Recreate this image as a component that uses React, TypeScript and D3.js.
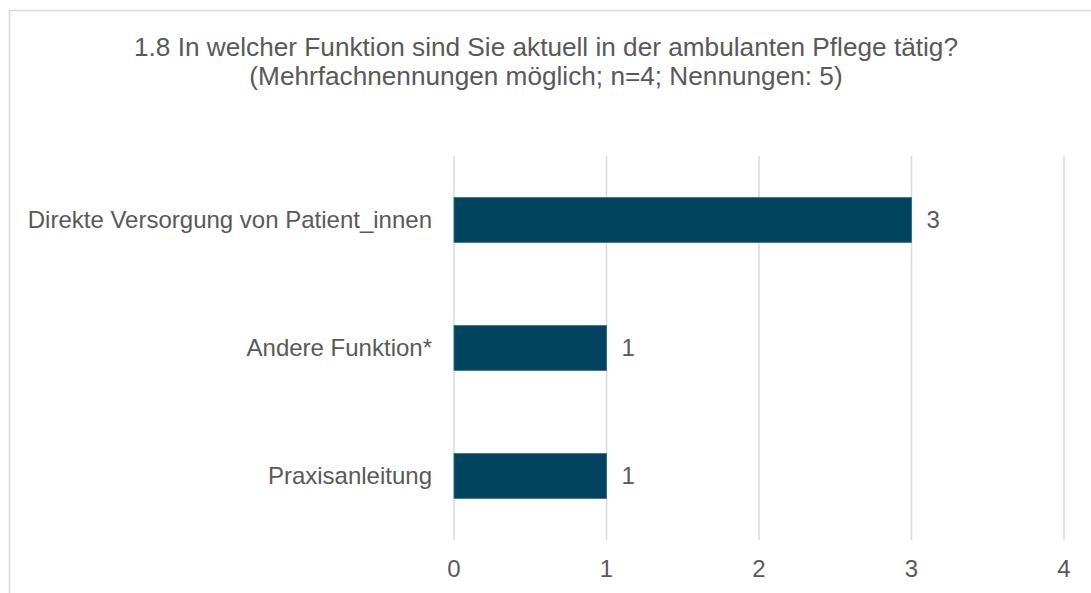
import * as d3 from 'd3'

const categories = ['Direkte Versorgung von Patient_innen', 'Andere Funktion*', 'Praxisanleitung']
const values = [3, 1, 1]
const ticks = [0, 1, 2, 3, 4]
const titleLines = [
  '1.8 In welcher Funktion sind Sie aktuell in der ambulanten Pflege tätig?',
  '(Mehrfachnennungen möglich; n=4; Nennungen: 5)',
]

const W = 1091
const H = 593
const FONT = '"Liberation Sans", Arial, sans-serif'
const TEXT = '#595959'

export default function App() {
  const x = d3.scaleLinear().domain([0, 4]).range([454, 1064])
  const y = d3.scaleBand().domain(categories).range([156, 540]).paddingInner(0.65).paddingOuter(0.325)

  return (
    <svg width={W} height={H} style={{ position: 'fixed', left: 0, top: 0, fontFamily: FONT }}>
      <rect x={0} y={0} width={W} height={H} fill="#fff" />
      <rect x={9.5} y={10.5} width={W + 20} height={H + 20} fill="none" stroke="#d9d9d9" strokeWidth={1.5} />

      {titleLines.map((t, i) => (
        <text key={i} x={546} y={56 + i * 29} textAnchor="middle" fontSize={26.2} fill={TEXT}>
          {t}
        </text>
      ))}

      {ticks.map((t) => (
        <g key={t}>
          <line x1={x(t)} x2={x(t)} y1={y.range()[0]} y2={y.range()[1]} stroke="#d9d9d9" strokeWidth={1.5} />
          <text x={x(t)} y={577} textAnchor="middle" fontSize={24} fill={TEXT}>
            {t}
          </text>
        </g>
      ))}

      {categories.map((c, i) => {
        const yc = y(c)! + y.bandwidth() / 2
        return (
          <g key={c}>
            <rect
              x={x(0)}
              y={y(c)}
              width={x(values[i]) - x(0)}
              height={y.bandwidth()}
              fill="#00445f"
              stroke="#2a6880"
              strokeWidth={0.75}
            />
            <text x={x(0) - 22} y={yc} dy="0.35em" textAnchor="end" fontSize={24} fill={TEXT}>
              {c}
            </text>
            <text x={x(values[i]) + 15} y={yc} dy="0.35em" fontSize={24} fill={TEXT}>
              {values[i]}
            </text>
          </g>
        )
      })}
    </svg>
  )
}
